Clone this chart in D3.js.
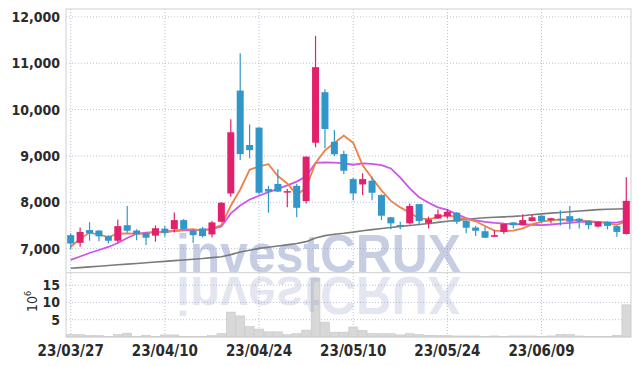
<!DOCTYPE html>
<html>
<head>
<meta charset="utf-8">
<script src="https://cdn.jsdelivr.net/npm/d3@7"></script>
<style>
  body { margin: 0; background: #fff; }
  text { font-family: "DejaVu Sans Condensed", "DejaVu Sans", sans-serif; font-stretch: condensed; font-weight: bold; fill: #2b2b2b; }
</style>
</head>
<body>
<div id="chart"></div>
<script>
//
// Daily candles with moving averages and volume
//
const dates = ["23/03/27","23/03/28","23/03/29","23/03/30","23/03/31","23/04/03","23/04/04","23/04/05","23/04/06","23/04/07",
  "23/04/10","23/04/11","23/04/12","23/04/13","23/04/14","23/04/17","23/04/18","23/04/19","23/04/20","23/04/21",
  "23/04/24","23/04/25","23/04/26","23/04/27","23/04/28","23/05/02","23/05/03","23/05/04","23/05/08","23/05/09",
  "23/05/10","23/05/11","23/05/12","23/05/15","23/05/16","23/05/17","23/05/18","23/05/19","23/05/22","23/05/23",
  "23/05/24","23/05/25","23/05/26","23/05/30","23/05/31","23/06/01","23/06/02","23/06/05","23/06/07","23/06/08",
  "23/06/09","23/06/12","23/06/13","23/06/14","23/06/15","23/06/16","23/06/19","23/06/20","23/06/21","23/06/22"]

const opens = [7290,7125,7400,7390,7270,7170,7505,7390,7330,7280,
  7430,7420,7615,7385,7435,7305,7580,8190,10410,9235,
  9610,8285,8395,8210,8355,8025,9285,10375,9305,9040,
  8500,8385,8465,8155,7675,7510,7545,7960,7555,7650,
  7690,7775,7600,7455,7375,7255,7360,7565,7505,7595,
  7710,7615,7640,7700,7645,7600,7475,7580,7485,7315]
const highs = [7330,7455,7570,7395,7290,7630,7920,7415,7340,7500,
  7485,7780,7640,7420,7470,7595,8000,9790,11215,9680,
  9620,8355,8710,8285,8400,8990,11590,10440,9560,9110,
  8530,8625,8550,8170,7680,7580,7975,7965,7690,7845,
  7850,7790,7620,7485,7470,7400,7540,7570,7740,7740,
  7720,7665,7830,7920,7665,7610,7590,7590,7490,8540]
const lows = [6985,7040,7170,7160,7110,7125,7340,7180,7080,7150,
  7255,7345,7410,7125,7240,7240,7570,8120,8910,8950,
  8170,7775,8220,7890,7675,7975,9185,9165,9000,8610,
  8045,8155,8045,7615,7415,7415,7520,7505,7435,7640,
  7650,7530,7330,7270,7230,7250,7315,7435,7500,7585,
  7545,7545,7500,7415,7435,7420,7455,7415,7255,7305]
const closes = [7110,7360,7330,7265,7170,7485,7385,7315,7235,7440,
  7345,7615,7420,7290,7270,7565,7990,9510,9040,9125,
  8205,8230,8230,8240,7880,8985,10915,9580,9035,8680,
  8190,8500,8205,7710,7545,7485,7920,7595,7630,7740,
  7795,7580,7450,7385,7235,7290,7530,7505,7615,7675,
  7595,7655,7620,7580,7595,7505,7580,7490,7360,8030]
// volume in millions of shares
const volumes = [0.7,0.7,0.4,0.4,0.2,0.7,1.1,0.2,0.5,0.2,
  0.6,0.6,0.2,0.2,0.2,0.4,0.95,7.2,6.1,3.0,
  2.3,1.5,1.5,0.7,0.95,2.0,17.0,4.3,1.4,1.4,
  2.9,1.9,0.95,0.95,0.95,0.6,0.95,0.7,0.5,0.4,
  0.4,0.3,0.3,0.3,0.2,0.3,0.2,0.3,0.3,0.3,
  0.2,0.3,0.7,0.7,0.3,0.2,0.2,0.2,0.5,9.3]

const ma5 = [7040,7210,7345,7300,7247,7322,7327,7324,7318,7372,
  7344,7390,7411,7422,7388,7432,7507,7925,8275,8700,
  8774,8822,8566,8406,8157,8313,8850,9120,9279,9439,
  9280,8797,8522,8257,8030,7889,7773,7651,7635,7674,
  7736,7668,7639,7590,7489,7388,7378,7389,7435,7523,
  7584,7609,7632,7625,7609,7591,7576,7550,7506,7593]
const ma20 = [6755,6830,6905,6970,7035,7120,7230,7320,7345,7355,
  7365,7380,7395,7400,7405,7420,7480,7760,7930,8060,
  8140,8220,8290,8365,8445,8560,8850,8860,8855,8840,
  8810,8840,8830,8800,8730,8530,8300,8110,7990,7890,
  7835,7740,7660,7610,7575,7555,7540,7530,7525,7515,
  7505,7520,7540,7555,7575,7575,7570,7560,7560,7610]
const ma60 = [6575,6590,6605,6620,6635,6650,6665,6680,6695,6710,
  6725,6740,6755,6770,6785,6805,6825,6870,6925,6965,
  7005,7030,7055,7080,7110,7150,7230,7280,7310,7330,
  7355,7385,7410,7435,7455,7480,7500,7520,7540,7565,
  7590,7610,7630,7650,7665,7675,7685,7695,7710,7730,
  7750,7765,7780,7795,7810,7825,7840,7850,7855,7860]

const priceTicks = [7000, 8000, 9000, 10000, 11000, 12000]
const volumeTicks = [5, 10, 15]
const dateTicks = ["23/03/27", "23/04/10", "23/04/24", "23/05/10", "23/05/24", "23/06/09"]

const W = 639, H = 366
const plotLeft = 66, plotRight = 631, plotTop = 9, priceBottom = 272.7, volBottom = 337

const svg = d3.select("#chart").append("svg")
  .attr("width", W).attr("height", H)

const x = d3.scaleBand().domain(dates).range([plotLeft, plotRight]).padding(0)
const cx = d => x(d) + x.bandwidth() / 2
const y = d3.scaleLinear().domain([6480, 12170]).range([priceBottom, plotTop])
const yv = d3.scaleLinear().domain([0, 18.6]).range([volBottom, priceBottom])

const gridColor = "#b9c0d6"

//
// Grid
//
svg.append("g").selectAll("line").data(priceTicks).join("line")
  .attr("x1", plotLeft).attr("x2", plotRight)
  .attr("y1", d => y(d)).attr("y2", d => y(d))
  .attr("stroke", gridColor).attr("stroke-dasharray", "1,2")
svg.append("g").selectAll("line").data(volumeTicks).join("line")
  .attr("x1", plotLeft).attr("x2", plotRight)
  .attr("y1", d => yv(d)).attr("y2", d => yv(d))
  .attr("stroke", gridColor).attr("stroke-dasharray", "1,2")
svg.append("g").selectAll("line").data(dateTicks).join("line")
  .attr("x1", d => cx(d)).attr("x2", d => cx(d))
  .attr("y1", plotTop).attr("y2", volBottom)
  .attr("stroke", gridColor).attr("stroke-dasharray", "1,2")

//
// Volume bars
//
svg.append("g").selectAll("rect").data(dates).join("rect")
  .attr("x", d => x(d) + 0.3)
  .attr("width", x.bandwidth() - 0.6)
  .attr("y", (d, i) => yv(volumes[i]))
  .attr("height", (d, i) => yv(0) - yv(volumes[i]))
  .attr("fill", "#d8d8d8").attr("stroke", "#c6c6c6").attr("stroke-width", 0.6)

//
// Watermark and its reflection
//
svg.append("text")
  .attr("x", 176).attr("y", 271.5)
  .attr("textLength", 285).attr("lengthAdjust", "spacingAndGlyphs")
  .style("font-family", "'Liberation Sans', Arial, sans-serif")
  .style("font-stretch", "normal")
  .style("font-size", "53px").style("font-weight", "bold")
  .style("fill", "#8f9cc8").style("fill-opacity", 0.5)
  .text("investCRUX")
svg.append("text")
  .attr("transform", "translate(0,548) scale(1,-1)")
  .attr("x", 176).attr("y", 271.5)
  .attr("textLength", 285).attr("lengthAdjust", "spacingAndGlyphs")
  .style("font-family", "'Liberation Sans', Arial, sans-serif")
  .style("font-stretch", "normal")
  .style("font-size", "53px").style("font-weight", "bold")
  .style("fill", "#8f9cc8").style("fill-opacity", 0.25)
  .text("investCRUX")

//
// Frame
//
svg.append("rect").attr("x", plotLeft).attr("y", plotTop)
  .attr("width", plotRight - plotLeft).attr("height", volBottom - plotTop)
  .attr("fill", "none").attr("stroke", "#cfcfcf")
svg.append("line").attr("x1", plotLeft).attr("x2", plotRight)
  .attr("y1", priceBottom).attr("y2", priceBottom)
  .attr("stroke", "#cfcfcf")

//
// Moving averages
//
const line = arr => d3.line()
  .x((d, i) => cx(dates[i]))
  .y(d => y(d))(arr)
svg.append("path").attr("d", line(ma60)).attr("fill", "none")
  .attr("stroke", "#7a7a7a").attr("stroke-width", 1.6)
svg.append("path").attr("d", line(ma20)).attr("fill", "none")
  .attr("stroke", "#cc55ea").attr("stroke-width", 1.8)
svg.append("path").attr("d", line(ma5)).attr("fill", "none")
  .attr("stroke", "#ee8049").attr("stroke-width", 1.8)

//
// Candles
//
const up = "#e2216c", down = "#3197c9"
const bodyW = 7
const candles = svg.append("g").selectAll("g").data(dates).join("g")
candles.append("line")
  .attr("x1", d => cx(d)).attr("x2", d => cx(d))
  .attr("y1", (d, i) => y(highs[i])).attr("y2", (d, i) => y(lows[i]))
  .attr("stroke", (d, i) => closes[i] >= opens[i] ? up : down)
  .attr("stroke-width", 1.2)
candles.append("rect")
  .attr("x", d => cx(d) - bodyW / 2).attr("width", bodyW)
  .attr("y", (d, i) => y(Math.max(opens[i], closes[i])))
  .attr("height", (d, i) => Math.max(1.5, Math.abs(y(opens[i]) - y(closes[i]))))
  .attr("fill", (d, i) => closes[i] >= opens[i] ? up : down)

//
// Axes
//
svg.append("g").attr("transform", `translate(${plotLeft},0)`)
  .call(d3.axisLeft(y).tickValues(priceTicks).tickFormat(d3.format(",")).tickSize(0).tickPadding(6))
  .call(g => g.select(".domain").remove())
  .selectAll("text").style("font-size", "14px")
svg.append("g").attr("transform", `translate(${plotLeft},0)`)
  .call(d3.axisLeft(yv).tickValues(volumeTicks).tickSize(0).tickPadding(6))
  .call(g => g.select(".domain").remove())
  .selectAll("text").style("font-size", "14px")
svg.append("g").attr("transform", `translate(0,${volBottom})`)
  .call(d3.axisBottom(x).tickValues(dateTicks).tickSize(0).tickPadding(8))
  .call(g => g.select(".domain").remove())
  .selectAll("text").style("font-size", "15px")

// unit label 10^6
const unit = svg.append("text")
  .attr("transform", "translate(37,312) rotate(-90)")
  .style("font-size", "14px").style("font-weight", "normal")
unit.append("tspan").text("10")
unit.append("tspan").attr("dy", -6).style("font-size", "9px").text("6")
</script>
</body>
</html>
